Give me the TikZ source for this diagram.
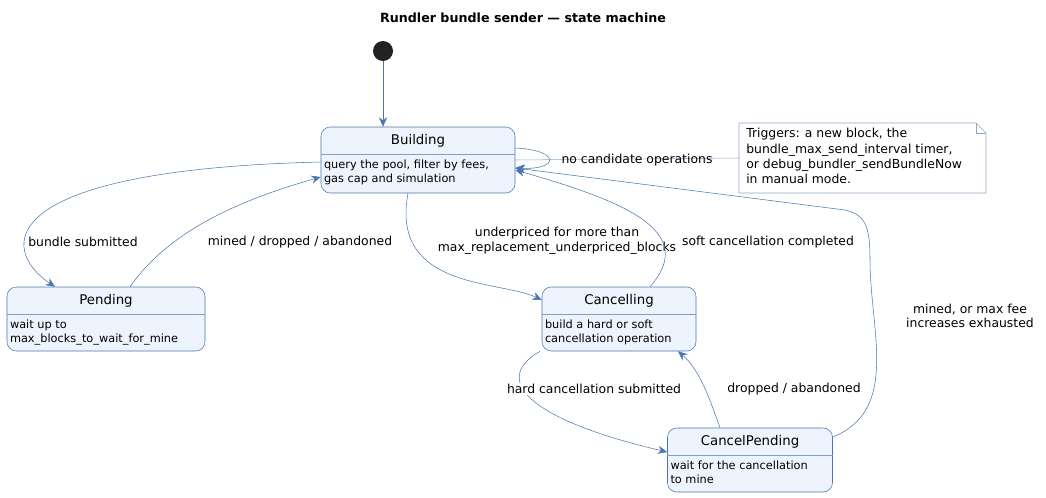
\documentclass[tikz,border=0pt]{standalone}
\usepackage{fontspec}
\setmainfont{DejaVu Sans}
\usetikzlibrary{positioning, arrows.meta}
\usetikzlibrary{calc}
\definecolor{edgeblue}{HTML}{4A76B0}
\definecolor{statefill}{HTML}{EEF4FD}
\definecolor{notegray}{HTML}{8FA8C8}
\newcommand{\umlstate}[7]{%
  \node[state, minimum width=#4*0.75pt, minimum height=#5*0.75pt] (#1) at (#2,#3) {};
  \node[stitle] (#1-title) at ($(#1.north)+(0,-14*0.75pt)$) {#6};
  \draw[edgeblue!70] ($(#1.north west)+(0,-28*0.75pt)$) -- ($(#1.north east)+(0,-28*0.75pt)$);
  \node[sbody] (#1-body) at ($(#1.north west)+(3*0.75pt,-33*0.75pt)$) {#7};}

\begin{document}
\begin{tikzpicture}[
      x=0.75pt, y=-0.75pt,
      state/.style={rectangle, draw=edgeblue, fill=statefill, rounded corners=7pt, inner sep=0pt},
      stitle/.style={font=\fontsize{10}{12}\selectfont},
      sbody/.style={font=\fontsize{8.5}{10.5}\selectfont, align=left, anchor=north west, inner sep=0pt},
      arrow/.style={->, >={Stealth[length=7pt, width=6pt]}, edgeblue, thin},
      lbl/.style={font=\fontsize{9.3}{11}\selectfont, align=center, fill=white, inner sep=1pt}
    ]
      \useasboundingbox (0,0) rectangle (1046,497);
      % Title
      \node[font=\bfseries\fontsize{9.5}{11}\selectfont] (title) at (523,18) {Rundler bundle sender — state machine};

      % States
      \umlstate{building}{418}{160}{194}{66}{Building}{query the pool, filter by fees,\\gas cap and simulation}
      \umlstate{pending}{106}{319}{198}{64}{Pending}{wait up to\\max\_blocks\_to\_wait\_for\_mine}
      \umlstate{cancelling}{619}{319}{154}{64}{Cancelling}{build a hard or soft\\cancellation operation}
      \umlstate{cancelpending}{750}{460}{165}{64}{CancelPending}{wait for the cancellation\\to mine}

      % Initial state and note
      \node[circle, fill=black!87, minimum size=20*0.75pt, inner sep=0pt] (init) at (383,51) {};
      \draw[notegray, fill=white] (739,123) -- (976,123) -- (986,133) -- (986,193) -- (739,193) -- cycle;
      \draw[notegray] (976,123) -- (976,133) -- (986,133);
      \node[font=\fontsize{9.3}{11.5}\selectfont, align=left, anchor=north west, inner sep=0pt] (note) at (746,128)
        {Triggers: a new block, the\\bundle\_max\_send\_interval timer,\\or debug\_bundler\_sendBundleNow\\in manual mode.};
      \coordinate (noteanchor) at (739,158);

      % Transitions
      \draw[arrow] (init) -- (building.north -| init);
      \draw[notegray] (building.east |- 0,160) -- (noteanchor);
      \draw[arrow] (building.east |- 0,148) .. controls (560,150) and (560,170) .. (building.east |- 0,168);
      \node[lbl, fill=none] (l-nocand) at (637,160) {no candidate operations};
      \draw[arrow] (building.west |- 0,162) .. controls (-10,170) and (0,250) .. (pending.north -| 55,0);
      \node[lbl] (l-sub) at (83,242) {bundle submitted};
      \draw[arrow] (pending.north -| 130,0) .. controls (170,230) and (240,200) .. (building.west |- 0,177);
      \node[lbl] (l-mined) at (300,242) {mined / dropped / abandoned};
      \draw[arrow] (building.south -| 408,0) .. controls (390,290) and (500,280) .. (cancelling.west |- 0,300);
      \node[lbl, fill=none] (l-under) at (557,241) {underpriced for more than\\max\_replacement\_underpriced\_blocks};
      \draw[arrow] (cancelling.north -| 650,0) .. controls (700,230) and (620,200) .. (building.east |- 0,170);
      \node[lbl] (l-soft) at (768,242) {soft cancellation completed};
      \draw[arrow] (cancelling.south -| 540,0) .. controls (490,380) and (530,420) .. (cancelpending.west |- 0,452);
      \node[lbl] (l-hard) at (594,389) {hard cancellation submitted};
      \draw[arrow] (cancelpending.north -| 720,0) .. controls (710,400) and (700,370) .. (cancelling.south -| 678,0);
      \node[lbl] (l-drop) at (794,389) {dropped / abandoned};
      \draw[arrow] (cancelpending.east |- 0,437) .. controls (900,410) and (870,330) .. (870,260)
        .. controls (870,225) and (865,215) .. (845,210) -- (building.east |- 0,168);
      \node[lbl] (l-exh) at (970,316) {mined, or max fee\\increases exhausted};
    \end{tikzpicture}
\end{document}
